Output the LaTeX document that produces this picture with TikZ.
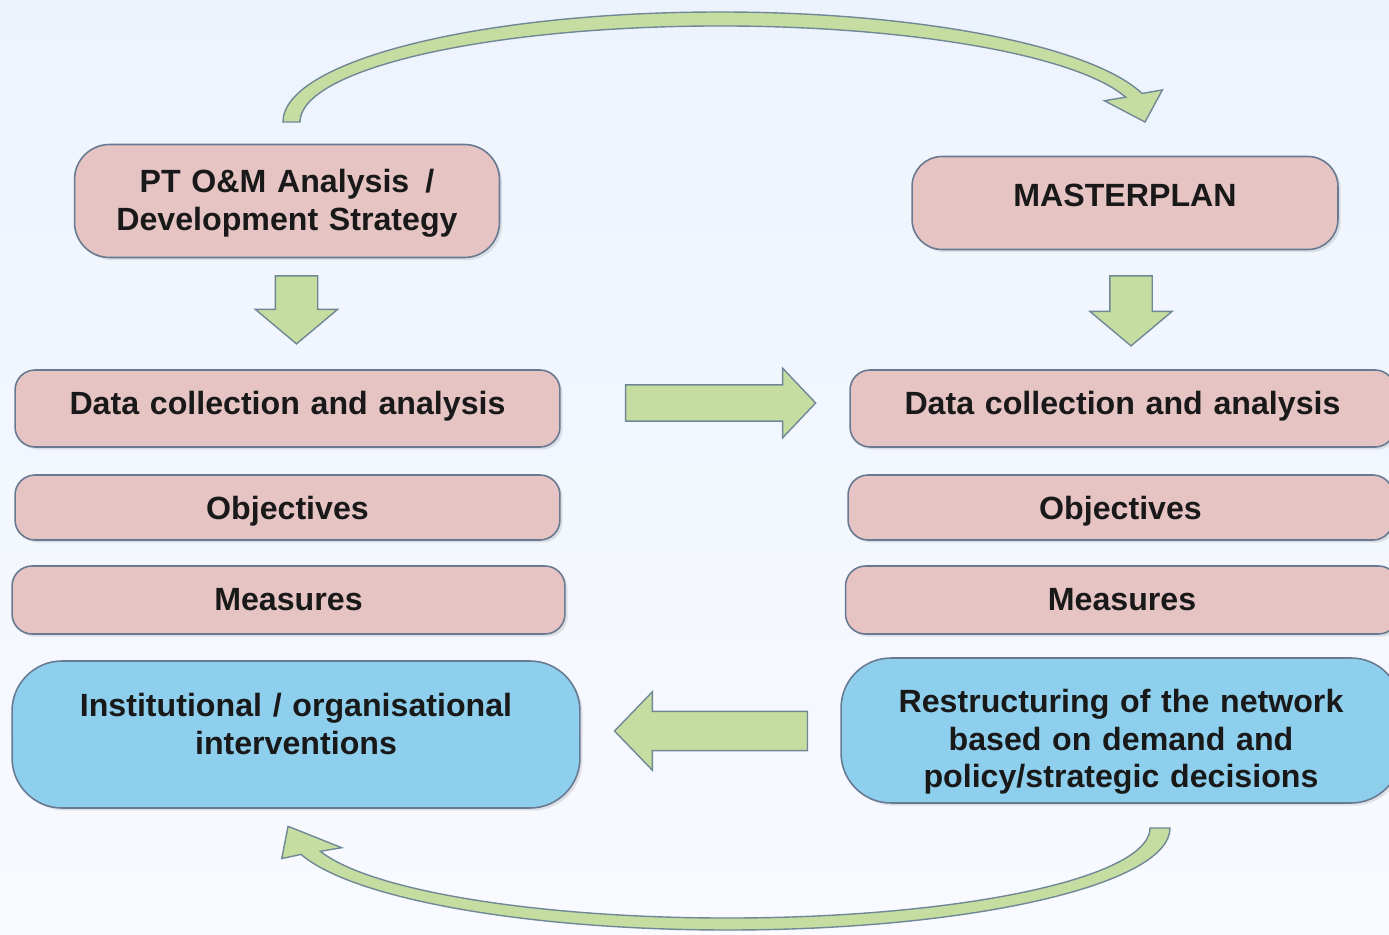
\documentclass[tikz,border=0pt]{standalone}
\usepackage{fontspec}
\setmainfont{Liberation Sans}
\usetikzlibrary{shapes.arrows,shadows,calc}
\definecolor{boxpink}{RGB}{230,196,196}
\definecolor{boxblue}{RGB}{142,207,237}
\definecolor{boxedge}{RGB}{104,122,145}
\definecolor{arrowfill}{RGB}{198,221,162}
\definecolor{arrowedge}{RGB}{112,136,150}
\definecolor{bgtop}{RGB}{237,243,253}
\definecolor{bgbot}{RGB}{248,250,255}

\begin{document}
\begin{tikzpicture}[x=0.02cm, y=-0.02cm,
	box/.style={draw=boxedge, line width=0.9pt, fill=boxpink, inner sep=0pt, align=center,
		font=\fontsize{18.3}{21.6}\selectfont\bfseries, text=black!90, text height=10pt,
		drop shadow={opacity=0.2, shadow xshift=1.5pt, shadow yshift=-1.5pt}},
	thinbox/.style={box, rounded corners=0.4cm, minimum width=10.9cm, text width=10cm},
	bluebox/.style={box, fill=boxblue, rounded corners=1cm, text width=10.5cm},
	blockarrow/.style={single arrow, draw=arrowedge, line width=0.8pt, fill=arrowfill, inner xsep=0pt},
	curvearrow/.style={draw=arrowedge, line width=0.8pt, fill=arrowfill}]

	\useasboundingbox (0,0) rectangle (1389,935);
	\shade[top color=bgtop, bottom color=bgbot] (0,0) rectangle (1389,935);

	% left column
	\node[box, rounded corners=0.7cm, minimum width=8.5cm, minimum height=2.26cm, text width=8cm, text depth=19.6pt] (L0) at (287,201) {PT O\&M Analysis\enspace/\\Development Strategy};
	\node[thinbox, minimum height=1.54cm, text depth=2.6pt] (L1) at (287.5,408.5) {Data collection and analysis};
	\node[thinbox, minimum height=1.3cm, text height=18pt, text depth=3.8pt] (L2) at (287.5,507.5) {Objectives};
	\node[thinbox, minimum width=11.06cm, minimum height=1.36cm, text height=15pt, text depth=3.6pt] (L3) at (288.5,600) {Measures};
	\node[bluebox, minimum width=11.36cm, minimum height=2.94cm, text depth=30pt] (L4) at (296,734.5) {Institutional / organisational\\interventions};

	% right column
	\node[box, rounded corners=0.6cm, minimum width=8.52cm, minimum height=1.86cm, text width=8cm, text depth=6pt] (R0) at (1125,203) {MASTERPLAN};
	\node[thinbox, minimum height=1.54cm, text depth=2.6pt] (R1) at (1122.5,408.5) {Data collection and analysis};
	\node[thinbox, minimum height=1.3cm, text height=18pt, text depth=3.8pt] (R2) at (1120.5,507.5) {Objectives};
	\node[thinbox, minimum width=11.06cm, minimum height=1.36cm, text height=15pt, text depth=3.6pt] (R3) at (1122,600) {Measures};
	\node[bluebox, minimum width=11.2cm, minimum height=2.9cm, text depth=31pt] (R4) at (1121,730.5) {Restructuring of the network\\based on demand and\\policy/strategic decisions};

	% straight block arrows
	\node[blockarrow, rotate=-90, inner ysep=0.41cm, single arrow head extend=0.4cm, single arrow tip angle=100, minimum height=1.36cm] (dnL) at (296.5,301) {};
	\node[blockarrow, rotate=-90, inner ysep=0.41cm, single arrow head extend=0.4cm, single arrow tip angle=100, minimum height=1.4cm] (dnR) at (1131,302) {};
	\node[blockarrow, inner ysep=0.35cm, single arrow head extend=0.33cm, single arrow tip angle=93, minimum height=3.8cm] (toR) at (712,403) {};
	\node[blockarrow, rotate=180, inner ysep=0.38cm, single arrow head extend=0.39cm, single arrow tip angle=92, minimum height=3.86cm] (toL) at (720.5,731) {};

	% curved arrows
	\coordinate (topc) at (720,122);
	\coordinate (botc) at (728,828);
	\filldraw[curvearrow] ($(topc)+(180:437 and 110)$) arc[start angle=180, end angle=345, x radius=437, y radius=110]
		-- ($(topc)+(345:458 and 124)$) -- ($(topc)+(0:425 and 0)$) -- ($(topc)+(345:398 and 82)$)
		-- ($(topc)+(345:420 and 96)$) arc[start angle=345, end angle=180, x radius=420, y radius=96] -- cycle;
	\filldraw[curvearrow] ($(botc)+(0:442 and 102)$) arc[start angle=0, end angle=165, x radius=442, y radius=102]
		-- ($(botc)+(165:462 and 118)$) -- ($(botc)+(181:440 and 98)$) -- ($(botc)+(165:400 and 76)$)
		-- ($(botc)+(165:422 and 90)$) arc[start angle=165, end angle=0, x radius=422, y radius=90] -- cycle; % end of loop

\end{tikzpicture}
\end{document}
